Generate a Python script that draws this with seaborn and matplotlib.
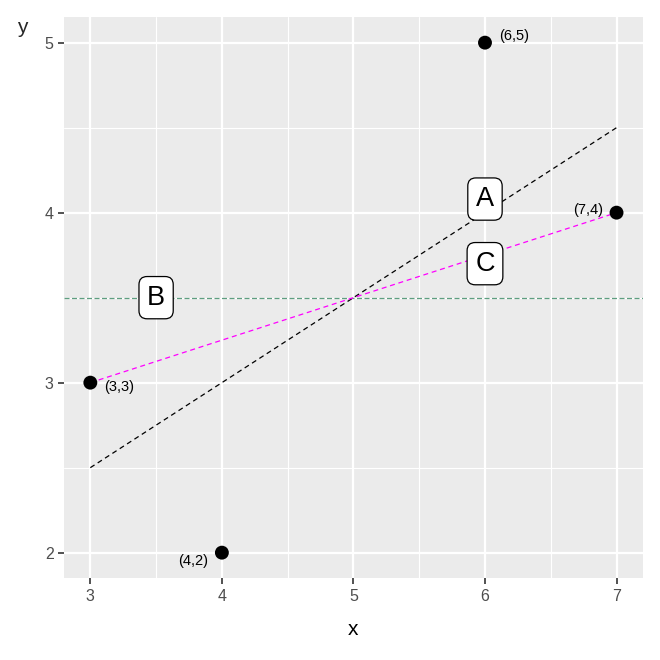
import seaborn as sns
import matplotlib.pyplot as plt
import pandas as pd

# Data
px = [3, 4, 6, 7]
py = [3, 2, 5, 4]
point_labels = ['(3,3)', '(4,2)', '(6,5)', '(7,4)']

line_a_x = [3, 7]
line_a_y = [2.5, 4.5]
line_c_x = [3, 7]
line_c_y = [3, 4]
hline_y = 3.5

box_labels = ['A', 'B', 'C']
box_x = [6, 3.5, 6]
box_y = [4.08, 3.5, 3.7]

points = pd.DataFrame({'x': px, 'y': py, 'label': point_labels})

sns.set_theme(style='darkgrid', rc={
    'axes.facecolor': '#EBEBEB',
    'grid.color': 'white',
    'axes.edgecolor': 'none',
})
plt.rcParams['font.family'] = ['Liberation Sans', 'DejaVu Sans']

fig = plt.figure(figsize=(6.6, 6.6), dpi=100)
ax = fig.add_axes([0.097, 0.124, 0.877, 0.85])

ax.axhline(hline_y, color='#5E9E80', lw=0.9, ls=(0, (4, 2)), zorder=2)
sns.lineplot(x=line_a_x, y=line_a_y, ax=ax, color='black', lw=0.9,
             linestyle=(0, (4, 3)), zorder=3)
sns.lineplot(x=line_c_x, y=line_c_y, ax=ax, color='magenta', lw=0.9,
             linestyle=(0, (4, 3)), zorder=3)
sns.scatterplot(data=points, x='x', y='y', ax=ax, color='black', s=100,
                edgecolor='none', zorder=4)

# point label offsets (points)
offsets = {'(3,3)': (10, -3, 'left'), '(4,2)': (-10, -6, 'right'),
           '(6,5)': (10, 5, 'left'), '(7,4)': (-10, 2, 'right')}
for _, r in points.iterrows():
    dx, dy, ha = offsets[r['label']]
    ax.annotate(r['label'], (r['x'], r['y']), xytext=(dx, dy),
                textcoords='offset points', ha=ha, va='center',
                fontsize=10.5, color='black', zorder=5)

for lab, bx, by in zip(box_labels, box_x, box_y):
    ax.text(bx, by, lab, ha='center', va='center', fontsize=19.5, zorder=6,
            color='black',
            bbox=dict(boxstyle='round,pad=0.3,rounding_size=0.3',
                      fc='white', ec='black', lw=0.9))

ax.set_xlim(2.8, 7.2)
ax.set_ylim(1.85, 5.15)
ax.set_xticks([3, 4, 5, 6, 7])
ax.set_yticks([2, 3, 4, 5])
ax.set_xticks([3.5, 4.5, 5.5, 6.5], minor=True)
ax.set_yticks([2.5, 3.5, 4.5], minor=True)
ax.grid(which='major', color='white', lw=1.6)
ax.grid(which='minor', color='white', lw=0.8)
ax.tick_params(which='major', length=4.5, width=1.2, color='#333333',
               labelcolor='#4D4D4D', labelsize=11.5, pad=3,
               bottom=True, left=True)
ax.tick_params(which='minor', length=0)

ax.set_xlabel('x', fontsize=15, color='black', labelpad=12)
ax.set_ylabel('')
fig.text(0.033, 0.958, 'y', fontsize=15, ha='center', va='center')

fig.savefig('out.png', dpi=100)
